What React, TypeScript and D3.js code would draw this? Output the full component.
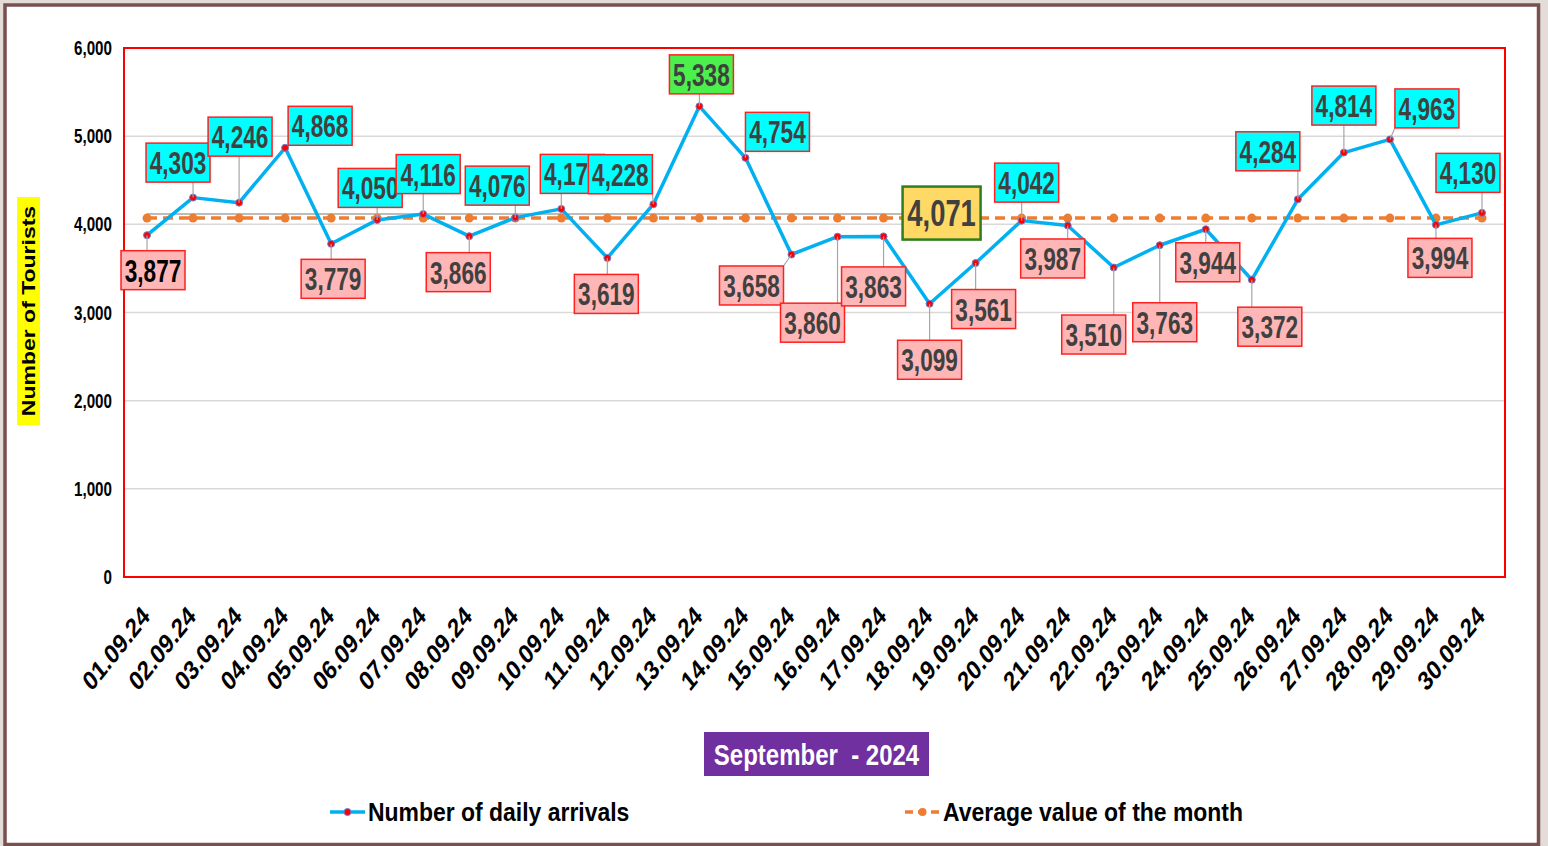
import React from "react";
import * as d3 from "d3";

// ---- data ----
const dates = [
  "01.09.24", "02.09.24", "03.09.24", "04.09.24", "05.09.24", "06.09.24",
  "07.09.24", "08.09.24", "09.09.24", "10.09.24", "11.09.24", "12.09.24",
  "13.09.24", "14.09.24", "15.09.24", "16.09.24", "17.09.24", "18.09.24",
  "19.09.24", "20.09.24", "21.09.24", "22.09.24", "23.09.24", "24.09.24",
  "25.09.24", "26.09.24", "27.09.24", "28.09.24", "29.09.24", "30.09.24",
];
const arrivals = [
  3877, 4303, 4246, 4868, 3779, 4050, 4116, 3866, 4076, 4175,
  3619, 4228, 5338, 4754, 3658, 3860, 3863, 3099, 3561, 4042,
  3987, 3510, 3763, 3944, 3372, 4284, 4814, 4963, 3994, 4130,
];
const monthAverage = 4071;
const yTicks = [0, 1000, 2000, 3000, 4000, 5000, 6000];
const seriesNames = ["Number of daily arrivals", "Average value of the month"];
const periodLabel = "September  - 2024";
const axisTitle = "Number of Tourists";

// where each data label sits, in px from its point
const labelOffsets = [
  [6, 35], [-15, -35], [1, -66], [35, -22], [2, 35], [-7, -32],
  [5, -40], [-11, 36], [-18, -32], [11, -35], [-1, 36], [-33, -30],
  [2, -32], [32, -26], [-40, 31], [-25, 86], [-10, 50], [0, 56],
  [8, 46], [5, -38], [-15, 33], [-20, 67], [5, 77], [2, 33],
  [18, 47], [-30, -48], [0, -47], [37, -31], [4, 33], [-14, -40],
];

const W = 1548;
const H = 846;
const m = { left: 124, right: 1505, top: 48, bottom: 577 };
const FONT = "'Liberation Sans', Arial, Helvetica, sans-serif";
const BLUE = "#00b0f0";
const ORANGE = "#ed7d31";
const fmt = d3.format(",");

function SText({ x, y, sx = 1, size, anchor = "start", fill = "#000", rotate = 0, children }) {
  const t = `translate(${x},${y}) scale(${sx},1)` + (rotate ? ` rotate(${rotate})` : "");
  return (
    <text transform={t} fontSize={size} textAnchor={anchor} fill={fill}
      fontWeight="bold" fontFamily={FONT} style={{ whiteSpace: "pre" }}>
      {children}
    </text>
  );
}

export default function App() {
  const x = d3.scalePoint().domain(dates).range([m.left, m.right]).padding(0.5);
  const y = d3.scaleLinear().domain([0, 6000]).range([m.bottom, m.top]);

  const line = d3.line<number>()
    .x((_, i) => x(dates[i]) as number)
    .y((d) => y(d));

  const maxVal = d3.max(arrivals) as number;
  const yAvg = y(monthAverage);

  const bw = 64, bh = 39;
  const labels = arrivals.map((v, i) => {
    const px = x(dates[i]) as number;
    const py = y(v);
    const cx = px + labelOffsets[i][0];
    const cy = py + labelOffsets[i][1];
    const fill = v === maxVal ? "#4cf04c" : v >= 4000 ? "#00ffff" : "#ffb6b6";
    // nearest point on the box for the leader
    const nx = Math.max(cx - bw / 2, Math.min(px, cx + bw / 2));
    const ny = Math.max(cy - bh / 2, Math.min(py, cy + bh / 2));
    const dist = Math.hypot(nx - px, ny - py);
    return { v, i, px, py, cx, cy, fill, nx, ny, dist };
  });

  // average label sits next to 18.09
  const avgCx = (x(dates[17]) as number) + 12;
  const avgCy = yAvg - 5;
  const abw = 78, abh = 53;

  return (
    <svg width={W} height={H} style={{ position: "absolute", left: 0, top: 0 }}>
      <rect x={0} y={0} width={W} height={H} fill="#e4dcd8" />
      <rect x={5} y={5} width={1533.5} height={839.5} fill="#fff" stroke="#7a4f4f" strokeWidth={3.5} />

      {/* gridlines */}
      {yTicks.map((t) => (
        <line key={t} x1={m.left} x2={m.right} y1={y(t)} y2={y(t)} stroke="#d9d9d9" strokeWidth={1.5} />
      ))}
      <rect x={m.left} y={m.top} width={m.right - m.left} height={m.bottom - m.top}
        fill="none" stroke="#ff0000" strokeWidth={2} />

      {/* y ticks */}
      {yTicks.map((t) => (
        <SText key={t} x={112} y={y(t) + 7} sx={0.76} size={20} anchor="end">{fmt(t)}</SText>
      ))}

      {/* y title */}
      <rect x={17} y={197} width={23} height={228} fill="#ffff00" />
      <SText x={35} y={311} sx={0.8} size={23} anchor="middle" rotate={-90}>{axisTitle}</SText>

      {/* x ticks */}
      {dates.map((d) => (
        <SText key={d} x={(x(d) as number) + 4} y={618} sx={0.8} size={27} anchor="end" rotate={-45}>{d}</SText>
      ))}

      {/* average leader */}
      <line x1={x(dates[0])} x2={avgCx - abw / 2} y1={yAvg - 4} y2={yAvg - 4} stroke="#a6a6a6" strokeWidth={1.5} />

      {/* average series */}
      <line x1={x(dates[0])} x2={x(dates[dates.length - 1])} y1={yAvg} y2={yAvg}
        stroke={ORANGE} strokeWidth={3.5} strokeDasharray="10,6" />
      {dates.map((d) => (
        <circle key={d} cx={x(d)} cy={yAvg} r={4.5} fill={ORANGE} />
      ))}

      {/* arrivals series */}
      <path d={line(arrivals) as string} fill="none" stroke={BLUE} strokeWidth={3.5} strokeLinejoin="round" />
      {arrivals.map((v, i) => (
        <circle key={i} cx={x(dates[i])} cy={y(v)} r={3.5} fill="#ff0000" stroke="#6a7fd0" strokeWidth={1} />
      ))}

      {/* leaders */}
      {labels.filter((l) => l.dist > 5).map((l) => (
        <line key={l.i} x1={l.px} y1={l.py} x2={l.nx} y2={l.ny} stroke="#a6a6a6" strokeWidth={1.2} />
      ))}

      {/* data labels */}
      {labels.map((l) => (
        <g key={l.i}>
          <rect x={l.cx - bw / 2} y={l.cy - bh / 2} width={bw} height={bh}
            fill={l.fill} stroke="#ff2020" strokeWidth={1.5} />
          <SText x={l.cx} y={l.cy + 11.5} sx={0.73} size={31} anchor="middle"
            fill={l.i === 0 ? "#000" : "#404040"}>{fmt(l.v)}</SText>
        </g>
      ))}

      {/* average label */}
      <rect x={avgCx - abw / 2} y={avgCy - abh / 2} width={abw} height={abh}
        fill="#ffd966" stroke="#2e7d1e" strokeWidth={2.5} />
      <SText x={avgCx} y={avgCy + 13} sx={0.74} size={37} anchor="middle" fill="#404040">{fmt(monthAverage)}</SText>

      {/* period box */}
      <rect x={704} y={732} width={225} height={44} fill="#7030a0" />
      <SText x={816.5} y={765} sx={0.8} size={30} anchor="middle" fill="#fff">{periodLabel}</SText>

      {/* legend */}
      <line x1={330} x2={365} y1={812} y2={812} stroke={BLUE} strokeWidth={3.5} />
      <circle cx={347.5} cy={812} r={3.5} fill="#ff0000" stroke="#6a7fd0" strokeWidth={1} />
      <SText x={368} y={821} sx={0.9} size={25.5}>{seriesNames[0]}</SText>

      <line x1={905} x2={940} y1={812} y2={812} stroke={ORANGE} strokeWidth={3.5} strokeDasharray="8,5" />
      <circle cx={922.5} cy={812} r={4} fill={ORANGE} />
      <SText x={943} y={821} sx={0.9} size={25.5}>{seriesNames[1]}</SText>
    </svg>
  );
}
